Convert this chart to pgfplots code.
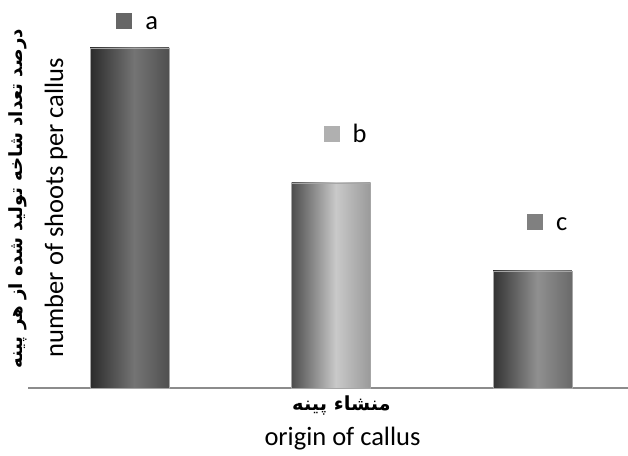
\documentclass[border=0pt]{standalone}
\usepackage{fontspec}
\setmainfont{Carlito}
\newfontfamily\arabicfont[Script=Arabic]{DejaVu Sans}
\TeXXeTstate=1
\usepackage{pgfplots}
\pgfplotsset{compat=1.18}
\definecolor{aL}{HTML}{2B2B2B}\definecolor{aM}{HTML}{747474}\definecolor{aR}{HTML}{505050}
\definecolor{bL}{HTML}{4D4D4D}\definecolor{bM}{HTML}{C9C9C9}\definecolor{bR}{HTML}{9A9A9A}
\definecolor{cL}{HTML}{333333}\definecolor{cM}{HTML}{909090}\definecolor{cR}{HTML}{6A6A6A}
\definecolor{sqA}{HTML}{666666}\definecolor{sqB}{HTML}{B0B0B0}\definecolor{sqC}{HTML}{808080}
\pgfdeclarehorizontalshading{barA}{100bp}{color(0bp)=(aL); color(25bp)=(aL); color(53bp)=(aM); color(75bp)=(aR); color(100bp)=(aR)}
\pgfdeclarehorizontalshading{barB}{100bp}{color(0bp)=(bL); color(25bp)=(bL); color(53bp)=(bM); color(75bp)=(bR); color(100bp)=(bR)}
\pgfdeclarehorizontalshading{barC}{100bp}{color(0bp)=(cL); color(25bp)=(cL); color(53bp)=(cM); color(75bp)=(cR); color(100bp)=(cR)}
\begin{document}
\begin{tikzpicture}
\path[use as bounding box] (0,0) rectangle (628pt,455pt);
\begin{axis}[
  at={(28pt,67pt)}, anchor=south west,
  scale only axis, width=600pt, height=388pt,
  xmin=-0.504, xmax=2.474, ymin=0, ymax=388,
  axis x line=bottom, axis y line=none,
  axis line style={-, draw=gray!90, line width=1.7pt},
  xtick=\empty, ytick=\empty,
  clip=false,
  every axis plot/.append style={bar width=0.392, bar shift=0pt},
  every node near coord/.append style={anchor=base west, xshift=21pt, yshift=-9.5pt, font=\fontsize{26.5}{30}\selectfont, text=black, inner sep=0pt},
]
\addplot[ybar, draw=gray!70, line width=0.8pt, shading=barA, shade] coordinates {(0,340)};
\addplot[ybar, draw=gray!70, line width=0.8pt, shading=barB, shade] coordinates {(1,205)};
\addplot[ybar, draw=gray!70, line width=0.8pt, shading=barC, shade] coordinates {(2,117)};
\addplot[only marks, mark=square*, mark size=7.5pt, color=sqA, point meta=explicit symbolic, nodes near coords] coordinates {(-0.027,367.5)[a]};
\addplot[only marks, mark=square*, mark size=7.5pt, color=sqB, point meta=explicit symbolic, nodes near coords] coordinates {(1.002,254.5)[b]};
\addplot[only marks, mark=square*, mark size=7.5pt, color=sqC, point meta=explicit symbolic, nodes near coords] coordinates {(2.012,166.5)[c]};
\end{axis}
\node[rotate=90, font=\arabicfont\bfseries\fontsize{18.2}{21}\selectfont] at (17.5pt,256pt) {\beginR درصد تعداد شاخه تولید شده از هر پینه\endR};
\node[rotate=90, anchor=base, inner sep=0pt, font=\fontsize{26.5}{30}\selectfont] at (63pt,247.5pt) {number of shoots per callus};
\node[font=\arabicfont\bfseries\fontsize{19.4}{23}\selectfont] at (341.5pt,50pt) {\beginR منشاء پینه\endR};
\node[anchor=base, inner sep=0pt, font=\fontsize{26.5}{30}\selectfont] at (342.5pt,10pt) {origin of callus};
\end{tikzpicture}
\end{document}
